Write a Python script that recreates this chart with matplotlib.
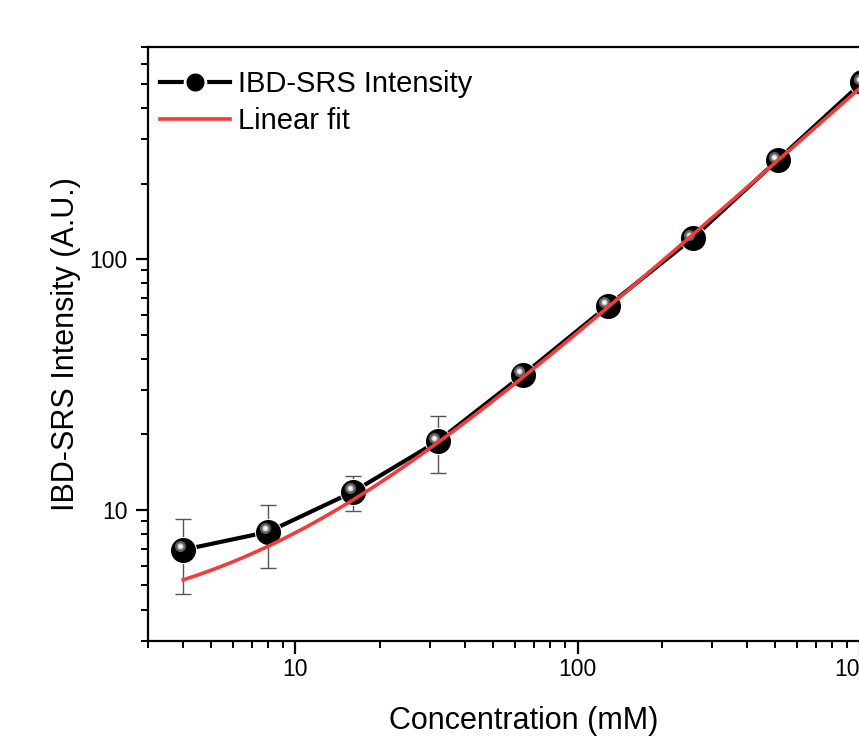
import numpy as np
import matplotlib
matplotlib.use('Agg')
import matplotlib.pyplot as plt
from matplotlib.transforms import offset_copy
from matplotlib.lines import Line2D

plt.rcParams['font.family'] = ['Liberation Sans', 'DejaVu Sans']

# data
conc = [4, 8, 16, 32, 64, 128, 256, 512, 1024]
intensity = [6.93, 8.17, 11.8, 18.8, 34.5, 65, 121, 248, 507]
err = [2.3, 2.3, 1.9, 4.8, 2.0, 3.0, 4.0, 6.0, 8.0]

# linear fit parameters (y = a + b*x)
fit_a = 3.36
fit_b = 0.475
fit_x = np.logspace(np.log10(4), np.log10(1100), 400)
fit_y = fit_a + fit_b * fit_x

fig = plt.figure(figsize=(8.59, 7.44), dpi=100)
ax = fig.add_axes([0.1723, 0.1384, 0.875, 0.7984])

ax.errorbar(conc, intensity, yerr=err, fmt='none', ecolor='#555555',
            elinewidth=1.0, capsize=6, capthick=1.0, zorder=2)
ax.plot(conc, intensity, '-', color='black', lw=3, zorder=3)
ax.plot(conc, intensity, 'o', color='black', ms=17, mec='white', mew=2.5,
        zorder=4)
ax.plot(conc, intensity, 'o', color='black', ms=17, zorder=4)
# highlight on the spheres
hl = offset_copy(ax.transData, fig=fig, x=-2.5, y=2.5, units='points')
ax.plot(conc, intensity, 'o', color='#777777', ms=8, mec='none',
        transform=hl, zorder=5, alpha=0.8)
ax.plot(conc, intensity, 'o', color='#cccccc', ms=4.5, mec='none',
        transform=hl, zorder=5)
ax.plot(conc, intensity, 'o', color='white', ms=2.2, mec='none',
        transform=hl, zorder=5)

ax.plot(fit_x, fit_y, '-', color='#f03c3c', lw=2.6, zorder=6)

ax.set_xscale('log')
ax.set_yscale('log')
ax.set_xlim(3.0, 1387)
ax.set_ylim(3.0, 700)

for s in ['left', 'bottom', 'top', 'right']:
    ax.spines[s].set_linewidth(1.6)

ax.tick_params(which='major', direction='out', length=9, width=1.6,
               labelsize=16.5, top=False, right=False)
ax.tick_params(axis='y', which='major', pad=5.5)
ax.tick_params(which='minor', direction='out', length=5, width=1.4,
               top=False, right=False)
ax.xaxis.set_major_formatter(matplotlib.ticker.FuncFormatter(lambda v, p: f'{v:g}'))
ax.yaxis.set_major_formatter(matplotlib.ticker.FuncFormatter(lambda v, p: f'{v:g}'))
ax.xaxis.set_minor_formatter(matplotlib.ticker.NullFormatter())
ax.yaxis.set_minor_formatter(matplotlib.ticker.NullFormatter())

ax.set_xlabel('Concentration (mM)', fontsize=22, labelpad=18)
ax.set_ylabel('IBD-SRS Intensity (A.U.)', fontsize=22, labelpad=6)

h1 = Line2D([], [], color='black', lw=3, marker='o', ms=15,
            mec='white', mew=2)
h2 = Line2D([], [], color='#f03c3c', lw=2.6)
ax.legend([h1, h2], ['IBD-SRS Intensity', 'Linear fit'], loc='upper left',
          bbox_to_anchor=(-0.0146, 1.0),
          frameon=False, fontsize=21, handlelength=2.4, handletextpad=0.25,
          borderaxespad=0.5, labelspacing=0.3, borderpad=0.3)

fig.savefig('out.png', dpi=100)
